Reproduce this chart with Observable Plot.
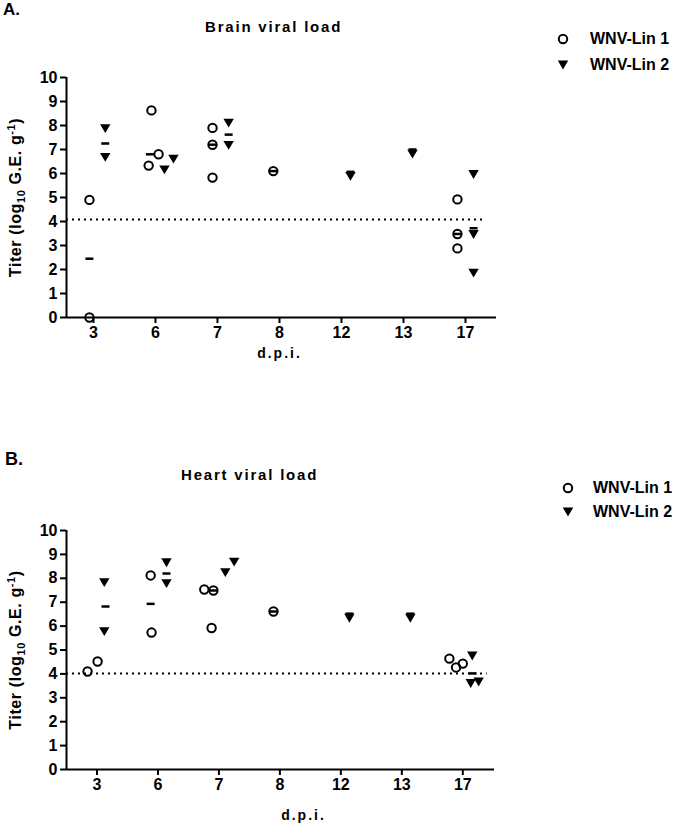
<!DOCTYPE html>
<html><head><meta charset="utf-8">
<script src="https://cdn.jsdelivr.net/npm/d3@7"></script>
<script src="https://cdn.jsdelivr.net/npm/@observablehq/plot@0.6"></script>
<style>
body{margin:0;background:#fff;}
#fig{position:relative;width:677px;height:828px;font-family:"Liberation Sans",Arial,sans-serif;color:#000;overflow:hidden;background:#fff}
.abs{position:absolute;white-space:nowrap;font-weight:bold;line-height:1}
.panel{position:absolute;left:0}
.sym{position:absolute}
</style>
</head><body>
<div id="fig">
  <div class="abs" style="left:3px;top:0.7px;font-size:17px">A.</div>
  <div class="abs" style="left:205px;top:18.7px;font-size:15px;letter-spacing:1.8px">Brain viral load</div>
  <div class="abs" style="left:5px;top:449.7px;font-size:18px">B.</div>
  <div class="abs" style="left:181px;top:466.7px;font-size:15px;letter-spacing:1.8px">Heart viral load</div>
  <div id="pA" class="panel" style="top:0px"></div>
  <div id="pB" class="panel" style="top:450px"></div>
  <div id="legA"></div>
  <div id="legB"></div>
</div>
<script>
// ---- data ----
const days = ["3", "6", "7", "8", "12", "13", "17"];
const yTicks = [0, 1, 2, 3, 4, 5, 6, 7, 8, 9, 10];
const seriesNames = ["WNV-Lin 1", "WNV-Lin 2"];

// Brain viral load (panel A)
const brainLin1Day = [3, 3, 6, 6, 6, 7, 7, 7, 8, 17, 17, 17];
const brainLin1Val = [4.9, 0.0, 8.63, 6.8, 6.33, 7.9, 7.2, 5.83, 6.1, 4.92, 3.48, 2.88];
const brainLin1Jit = [-0.065, -0.065, -0.065, 0.05, -0.11, -0.08, -0.08, -0.08, -0.1, -0.13, -0.13, -0.13];

const brainLin2Day = [3, 3, 6, 6, 7, 7, 12, 13, 17, 17, 17];
const brainLin2Val = [7.87, 6.67, 6.15, 6.6, 8.1, 7.17, 5.88, 6.81, 5.96, 3.46, 1.85];
const brainLin2Jit = [0.19, 0.19, 0.145, 0.29, 0.18, 0.18, 0.145, 0.145, 0.13, 0.13, 0.13];

const brainMedDay = [3, 3, 6, 7, 7, 8, 12, 13, 17, 17];
const brainMedVal = [2.45, 7.25, 6.8, 7.2, 7.62, 6.1, 6.07, 7.0, 3.48, 3.72];
const brainMedJit = [-0.065, 0.19, -0.09, -0.08, 0.18, -0.1, 0.145, 0.145, -0.13, 0.13];
const brainLOD = 4.08;

// Heart viral load (panel B)
const heartLin1Day = [3, 3, 6, 6, 7, 7, 7, 8, 17, 17, 17];
const heartLin1Val = [4.1, 4.52, 8.12, 5.73, 7.53, 7.49, 5.92, 6.61, 4.64, 4.27, 4.43];
const heartLin1Jit = [-0.155, 0.01, -0.12, -0.105, -0.24, -0.09, -0.12, -0.105, -0.22, -0.11, 0.0];

const heartLin2Day = [3, 3, 6, 6, 7, 7, 12, 13, 17, 17, 17];
const heartLin2Val = [7.82, 5.77, 8.65, 7.78, 8.24, 8.68, 6.33, 6.33, 4.75, 3.6, 3.66];
const heartLin2Jit = [0.12, 0.12, 0.14, 0.14, 0.105, 0.25, 0.14, 0.14, 0.155, 0.13, 0.26];

const heartMedDay = [3, 6, 6, 7, 8, 12, 13, 17];
const heartMedVal = [6.82, 6.93, 8.2, 7.49, 6.61, 6.52, 6.52, 4.02];
const heartMedJit = [0.14, -0.12, 0.14, -0.09, -0.105, 0.14, 0.14, 0.16];
const heartLOD = 4.02;

// ---- helpers ----
const idx = d => days.indexOf(String(d));
const rows = (dd, vv, jj) => dd.map((d, i) => ({x: idx(d) + jj[i], y: vv[i]}));

const triDown = {draw(ctx, size) {
  const s = Math.sqrt(size / Math.PI);
  ctx.moveTo(-s, -0.85 * s); ctx.lineTo(s, -0.85 * s); ctx.lineTo(0, 0.85 * s); ctx.closePath();
}};
const dash = {draw(ctx, size) {
  const s = Math.sqrt(size / Math.PI);
  ctx.moveTo(-s, 0); ctx.lineTo(s, 0);
}};

const FONT = '"Liberation Sans", Arial, sans-serif';
const YLABEL = "Titer (log10 G.E. g-1)";

function panel(o) {
  const svg = Plot.plot({
    width: 677, height: o.height,
    marginLeft: 66, marginRight: o.marginRight, marginTop: o.marginTop, marginBottom: o.marginBottom,
    x: {domain: o.xDomain, axis: null},
    y: {domain: [0, 10], axis: null},
    style: {fontFamily: FONT, color: "#000", background: "transparent", overflow: "visible"},
    marks: [
      Plot.ruleY([o.lod], {x1: o.xDomain[0], x2: o.lodEnd, stroke: "#000", strokeWidth: 2, strokeDasharray: "2 4"}),
      Plot.ruleX([o.xDomain[0]], {stroke: "#000", strokeWidth: 2}),
      Plot.ruleY([0], {stroke: "#000", strokeWidth: 2}),
      Plot.axisY({ticks: yTicks, tickSize: 6, tickPadding: 3, strokeWidth: 2, fontSize: 16, fontWeight: "bold", label: null}),
      Plot.axisX({ticks: days.map((d, i) => i), tickFormat: i => days[i], tickSize: 6, tickPadding: 3, strokeWidth: 2, fontSize: 16, fontWeight: "bold", label: null}),
      Plot.dot(o.lin1, {x: "x", y: "y", r: 4.2, stroke: "#000", strokeWidth: 2, fill: "none"}),
      Plot.dot(o.lin2, {x: "x", y: "y", r: 5.2, symbol: triDown, fill: "#000", stroke: "none"}),
      Plot.dot(o.med, {x: "x", y: "y", r: 4, symbol: dash, stroke: "#000", strokeWidth: 2.5, fill: "none"}),
      Plot.text([YLABEL], {frameAnchor: "left", textAnchor: "middle", dx: -51, rotate: -90, fontSize: 16, fontWeight: "bold"}),
      Plot.text(["d.p.i."], {frameAnchor: "bottom", dx: o.xlabDx, dy: o.xlabDy, fontSize: 14, fontWeight: "bold"})
    ]
  });
  d3.select(svg).selectAll("text").each(function() {
    if (this.textContent === YLABEL) {
      this.innerHTML = 'Titer (log<tspan dy="4" font-size="11">10</tspan><tspan dy="-4"> G.E. g</tspan><tspan dy="-6" font-size="11">-1</tspan><tspan dy="6">)</tspan>';
      this.style.letterSpacing = "0.6px";
    } else if (this.textContent === "d.p.i.") {
      this.style.letterSpacing = "2px";
    }
  });
  return svg;
}

document.getElementById("pA").appendChild(panel({
  height: 370, marginTop: 77, marginBottom: 53, marginRight: 181,
  xDomain: [-0.435, 6.5], lod: brainLOD, lodEnd: 6.29, xlabDx: -2, xlabDy: 40,
  lin1: rows(brainLin1Day, brainLin1Val, brainLin1Jit),
  lin2: rows(brainLin2Day, brainLin2Val, brainLin2Jit),
  med: rows(brainMedDay, brainMedVal, brainMedJit)
}));
document.getElementById("pB").appendChild(panel({
  height: 378, marginTop: 80, marginBottom: 59, marginRight: 183,
  xDomain: [-0.5, 6.52], lod: heartLOD, lodEnd: 6.40, xlabDx: 23, xlabDy: 50,
  lin1: rows(heartLin1Day, heartLin1Val, heartLin1Jit),
  lin2: rows(heartLin2Day, heartLin2Val, heartLin2Jit),
  med: rows(heartMedDay, heartMedVal, heartMedJit)
}));

// legends
function legend(el, cx, cy1, cy2, tx) {
  const circ = `<svg class="sym" style="left:${cx-7}px;top:${cy1-7}px" width="14" height="14"><circle cx="7" cy="7" r="4.2" fill="none" stroke="#000" stroke-width="2"/></svg>`;
  const tri = `<svg class="sym" style="left:${cx-7}px;top:${cy2-7}px" width="14" height="14"><path d="M1.8,2.6L12.2,2.6L7,11.4Z" fill="#000"/></svg>`;
  el.innerHTML = circ + tri +
    `<div class="abs" style="left:${tx}px;top:${cy1 - 7.8}px;font-size:16px">${seriesNames[0]}</div>` +
    `<div class="abs" style="left:${tx}px;top:${cy2 - 7.8}px;font-size:16px">${seriesNames[1]}</div>`;
}
legend(document.getElementById("legA"), 563, 38.5, 65, 590);
legend(document.getElementById("legB"), 568, 488, 512, 593);
</script>
</body></html>
